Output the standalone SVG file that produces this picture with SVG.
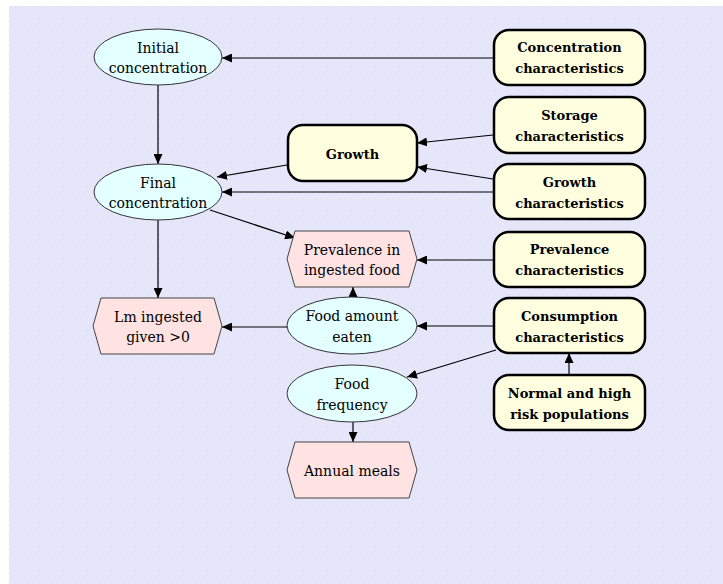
<svg xmlns="http://www.w3.org/2000/svg" width="723" height="584" viewBox="0 0 723 584">
<style>
.ell{fill:#e3ffff;stroke:#333;stroke-width:1}
.hex{fill:#ffe3e3;stroke:#444;stroke-width:1}
.box{fill:#ffffe0;stroke:#000;stroke-width:2.5}
.t{font-family:"DejaVu Serif","Liberation Serif",serif;font-size:14px;fill:#000;text-anchor:middle}
.b{font-family:"DejaVu Serif","Liberation Serif",serif;font-size:13px;font-weight:bold;fill:#000;text-anchor:middle}
.c{stroke:#000;stroke-width:1.2;fill:none;marker-end:url(#ah)}
</style>
<defs>
<marker id="ah" markerUnits="userSpaceOnUse" markerWidth="10" markerHeight="9" refX="10" refY="4.5" orient="auto">
<path d="M0,0 L10,4.5 L0,9 z" fill="#000"/>
</marker>
<pattern id="dots" width="12" height="12" patternUnits="userSpaceOnUse">
<rect width="12" height="12" fill="#e6e6fb"/>
<rect x="3" y="6" width="1" height="1" fill="#d4d4ee"/>
</pattern>
</defs>
<rect width="723" height="584" fill="#ffffff"/>
<rect x="9" y="6" width="714" height="578" fill="url(#dots)"/>

<g id="connectors">
<path class="c" d="M493,58 L222,58"/>
<path class="c" d="M158,85 L158,164"/>
<path class="c" d="M493,135 L417,143"/>
<path class="c" d="M493,179 L417,167"/>
<path class="c" d="M493,192 L222,192"/>
<path class="c" d="M287,165 L217,177"/>
<path class="c" d="M210,210 L295,238"/>
<path class="c" d="M493,260 L417,260"/>
<path class="c" d="M158,220 L158,298"/>
<path class="c" d="M353,297 L353,287"/>
<path class="c" d="M287,327 L222,327"/>
<path class="c" d="M493,326 L417,326"/>
<path class="c" d="M496,350 L407,377"/>
<path class="c" d="M569,375 L569,353"/>
<path class="c" d="M353,422 L353,442"/>
</g>

<g id="initial-concentration">
<ellipse class="ell" cx="158" cy="57" rx="64" ry="28"/>
<text class="t" x="158" y="53">Initial</text>
<text class="t" x="158" y="73">concentration</text>
</g>
<g id="final-concentration">
<ellipse class="ell" cx="158" cy="192" rx="64" ry="28"/>
<text class="t" x="158" y="188">Final</text>
<text class="t" x="158" y="208">concentration</text>
</g>
<g id="concentration-characteristics">
<rect class="box" x="494" y="30" width="151" height="55" rx="15"/>
<text class="b" x="569.5" y="52">Concentration</text>
<text class="b" x="569.5" y="73">characteristics</text>
</g>
<g id="storage-characteristics">
<rect class="box" x="494" y="97" width="151" height="56" rx="15"/>
<text class="b" x="569.5" y="120">Storage</text>
<text class="b" x="569.5" y="141">characteristics</text>
</g>
<g id="growth">
<rect class="box" x="288" y="125" width="129" height="56" rx="15"/>
<text class="b" x="352.5" y="159">Growth</text>
</g>
<g id="growth-characteristics">
<rect class="box" x="494" y="164" width="151" height="55" rx="15"/>
<text class="b" x="569.5" y="187">Growth</text>
<text class="b" x="569.5" y="208">characteristics</text>
</g>
<g id="prevalence-in-ingested-food">
<polygon class="hex" points="287,259 295,231 409,231 417,259 409,287 295,287"/>
<text class="t" x="352" y="255">Prevalence in</text>
<text class="t" x="352" y="275">ingested food</text>
</g>
<g id="prevalence-characteristics">
<rect class="box" x="494" y="232" width="151" height="55" rx="15"/>
<text class="b" x="569.5" y="254">Prevalence</text>
<text class="b" x="569.5" y="275">characteristics</text>
</g>
<g id="lm-ingested">
<polygon class="hex" points="93,326 101,298 214,298 222,326 214,354 101,354"/>
<text class="t" x="158" y="322">Lm ingested</text>
<text class="t" x="158" y="342">given &gt;0</text>
</g>
<g id="food-amount-eaten">
<ellipse class="ell" cx="352" cy="325.5" rx="65" ry="28.5"/>
<text class="t" x="352" y="321">Food amount</text>
<text class="t" x="352" y="342">eaten</text>
</g>
<g id="consumption-characteristics">
<rect class="box" x="494" y="298" width="151" height="55" rx="15"/>
<text class="b" x="569.5" y="321">Consumption</text>
<text class="b" x="569.5" y="342">characteristics</text>
</g>
<g id="food-frequency">
<ellipse class="ell" cx="352" cy="393.5" rx="65" ry="28.5"/>
<text class="t" x="352" y="389">Food</text>
<text class="t" x="352" y="410">frequency</text>
</g>
<g id="normal-and-high-risk-populations">
<rect class="box" x="494" y="375" width="151" height="55" rx="15"/>
<text class="b" x="569.5" y="398">Normal and high</text>
<text class="b" x="569.5" y="419">risk populations</text>
</g>
<g id="annual-meals">
<polygon class="hex" points="287,470 295,442 409,442 417,470 409,498 295,498"/>
<text class="t" x="352" y="476">Annual meals</text>
</g>
</svg>
